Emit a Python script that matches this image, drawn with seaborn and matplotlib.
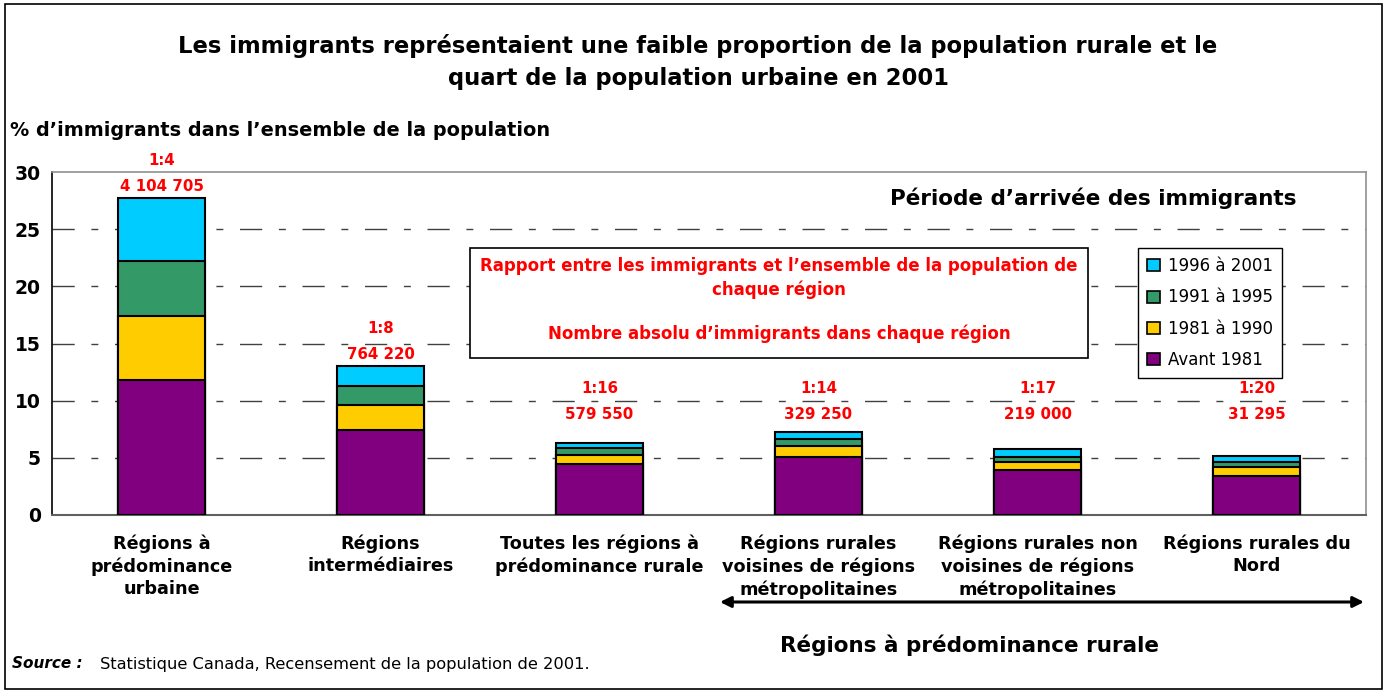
import matplotlib
matplotlib.use("Agg")
import numpy as np
import pandas as pd
import matplotlib.pyplot as plt
import matplotlib.patches as mpatches
import seaborn as sns

# --- data --------------------------------------------------------------
categories = ["Régions à\nprédominance\nurbaine",
              "Régions\nintermédiaires",
              "Toutes les régions à\nprédominance rurale",
              "Régions rurales\nvoisines de régions\nmétropolitaines",
              "Régions rurales non\nvoisines de régions\nmétropolitaines",
              "Régions rurales du\nNord"]
periods = ["Avant 1981", "1981 à 1990", "1991 à 1995", "1996 à 2001"]
avant_1981 = [11.8, 7.4, 4.5, 5.1, 3.95, 3.45]
p1981_1990 = [5.6, 2.25, 0.75, 0.95, 0.7, 0.75]
p1991_1995 = [4.8, 1.65, 0.6, 0.6, 0.45, 0.45]
p1996_2001 = [5.5, 1.75, 0.45, 0.65, 0.65, 0.5]
ratios = ["1:4", "1:8", "1:16", "1:14", "1:17", "1:20"]
counts = ["4 104 705", "764 220", "579 550", "329 250", "219 000", "31 295"]
yticks = [0, 5, 10, 15, 20, 25, 30]

colors = {"Avant 1981": "#800080", "1981 à 1990": "#FFCC00",
          "1991 à 1995": "#339966", "1996 à 2001": "#00CCFF"}
RED = "#FF0000"

sns.set_style("white")
plt.rcParams["font.family"] = ["DejaVu Sans"]
plt.rcParams["text.color"] = "black"
plt.rcParams["xtick.color"] = "black"
plt.rcParams["ytick.color"] = "black"
plt.rcParams["axes.labelcolor"] = "black"

df = pd.DataFrame({"cat": categories, "Avant 1981": avant_1981,
                   "1981 à 1990": p1981_1990, "1991 à 1995": p1991_1995,
                   "1996 à 2001": p1996_2001})
cum = df[periods].cumsum(axis=1)

fig = plt.figure(figsize=(13.87, 6.92), dpi=100)
W, H = 1387, 692
ax = fig.add_axes([52 / W, 1 - 515 / H, (1366 - 52) / W, (515 - 172) / H])

# stacked bars: draw cumulative totals from the top layer down
for p in periods[::-1]:
    sns.barplot(x=df["cat"], y=cum[p], color=colors[p], width=0.4,
                edgecolor="black", linewidth=1.5, errorbar=None,
                saturation=1, ax=ax, zorder=3)

ax.set_ylim(0, 30)
ax.set_xlim(-0.5, 5.5)
ax.set_yticks(yticks)
ax.set_yticklabels([str(t) for t in yticks], fontsize=13.5, fontweight="bold")
ax.set_xticks(range(len(categories)))
ax.set_xticklabels(categories, fontsize=12.7, fontweight="bold", linespacing=1.3)
ax.set_xticks(np.arange(0.5, 5.5, 1), minor=True)
ax.tick_params(axis="x", which="major", length=0, pad=14)
ax.tick_params(axis="x", which="minor", length=5, direction="out", color="#606060")
ax.tick_params(axis="y", length=4, direction="out", color="black", pad=4)
ax.set_xlabel("")
ax.set_ylabel("")

for t in yticks[1:-1]:
    ax.axhline(t, color="#404040", lw=1, dashes=(16, 12, 5, 12), zorder=1)

for s in ["top", "right"]:
    ax.spines[s].set_color("#909090")
    ax.spines[s].set_linewidth(1.2)
ax.spines["bottom"].set_color("#606060")
ax.spines["bottom"].set_linewidth(1.5)
ax.spines["left"].set_color("black")
ax.spines["left"].set_linewidth(1.2)

# labels above bars
totals = cum[periods[-1]].values
for i, (r, c) in enumerate(zip(ratios, counts)):
    y = max(totals[i] + 1.0, 8.75)
    ax.text(i, y, c, ha="center", va="center", color=RED,
            fontsize=10.8, fontweight="bold")
    ax.text(i, y + 2.3, r, ha="center", va="center", color=RED,
            fontsize=10.8, fontweight="bold", clip_on=False)

# titles and annotations
fig.text(698 / W, 1 - 46 / H, "Les immigrants représentaient une faible proportion de la population rurale et le",
         ha="center", va="center", fontsize=16.3, fontweight="bold")
fig.text(698 / W, 1 - 79 / H, "quart de la population urbaine en 2001",
         ha="center", va="center", fontsize=16.3, fontweight="bold")
fig.text(10 / W, 1 - 131 / H, "% d’immigrants dans l’ensemble de la population",
         ha="left", va="center", fontsize=13.9, fontweight="bold")
fig.text(890 / W, 1 - 198 / H, "Période d’arrivée des immigrants",
         ha="left", va="center", fontsize=15.5, fontweight="bold")

# red explanation box
fig.patches.append(mpatches.Rectangle((470 / W, 1 - 358 / H), 618 / W, 110 / H,
                                      transform=fig.transFigure, fill=True,
                                      facecolor="white", edgecolor="black",
                                      lw=1.2, zorder=5))
fig.text(779 / W, 1 - 266 / H,
         "Rapport entre les immigrants et l’ensemble de la population de",
         ha="center", va="center", color=RED, fontsize=12, fontweight="bold", zorder=6)
fig.text(779 / W, 1 - 290 / H, "chaque région",
         ha="center", va="center", color=RED, fontsize=12, fontweight="bold", zorder=6)
fig.text(779 / W, 1 - 334 / H, "Nombre absolu d’immigrants dans chaque région",
         ha="center", va="center", color=RED, fontsize=12, fontweight="bold", zorder=6)

# legend
handles = [mpatches.Patch(facecolor=colors[p], edgecolor="black", lw=1.2, label=p)
           for p in periods[::-1]]
leg = fig.legend(handles=handles, loc="upper left",
                 bbox_to_anchor=(1138 / W, 1 - 248 / H), fontsize=12,
                 frameon=True, fancybox=False, framealpha=1, edgecolor="black",
                 handlelength=0.75, handleheight=0.75, handletextpad=0.5,
                 labelspacing=0.8, borderpad=0.55, borderaxespad=0)
leg.get_frame().set_linewidth(1.0)

# arrow and rural group label
ax_arrow = fig.add_axes([0, 0, 1, 1], facecolor="none")
ax_arrow.set_axis_off()
ax_arrow.set_xlim(0, 1)
ax_arrow.set_ylim(0, 1)
ax_arrow.annotate("", xy=(720 / W, 1 - 602 / H), xytext=(1364 / W, 1 - 602 / H),
                  arrowprops=dict(arrowstyle="<|-|>", color="black", lw=2.2,
                                  mutation_scale=16, shrinkA=0, shrinkB=0))
fig.text(969 / W, 1 - 645 / H, "Régions à prédominance rurale",
         ha="center", va="center", fontsize=15.5, fontweight="bold")

# source
fig.text(12 / W, 1 - 664 / H, "Source :", ha="left", va="center",
         fontsize=11, fontweight="bold", style="italic")
fig.text(100 / W, 1 - 664 / H, "Statistique Canada, Recensement de la population de 2001.",
         ha="left", va="center", fontsize=11.7)

# outer frame
fig.patches.append(mpatches.Rectangle((5 / W, 3 / H), 1377 / W, 685 / H,
                                      transform=fig.transFigure, fill=False,
                                      edgecolor="black", lw=1.2))

fig.savefig("out.png", dpi=100)
